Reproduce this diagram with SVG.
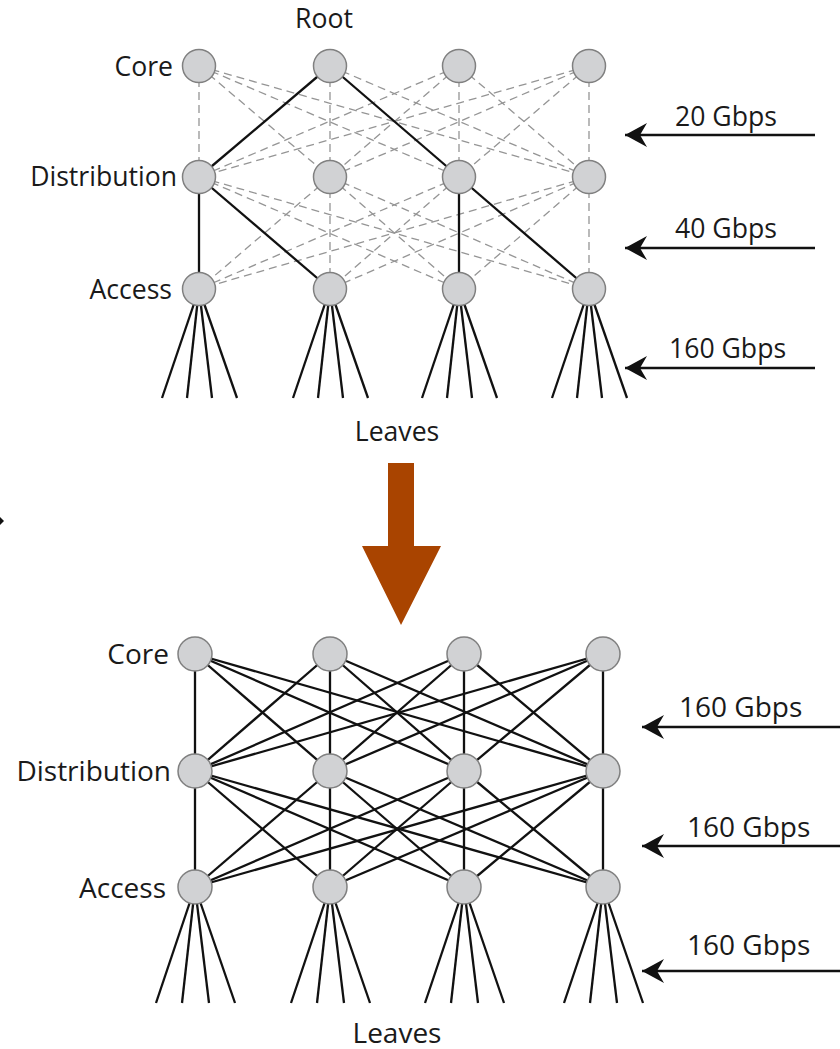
<svg xmlns="http://www.w3.org/2000/svg" width="840" height="1049" viewBox="0 0 840 1049">
  <style>
    .lbl { font-family: "Open Sans", "Liberation Sans", sans-serif; font-size: 26.6px; fill: #1a1a1a; }
    .lbl2 { font-family: "Open Sans", "Liberation Sans", sans-serif; font-size: 28px; fill: #1a1a1a; }
    .node { fill: #d1d2d4; stroke: #808080; stroke-width: 1.5; }
    .dash { stroke: #959595; stroke-width: 1.3; stroke-dasharray: 8 5; fill: none; }
    .link { stroke: #111; stroke-width: 2.3; fill: none; }
    .leaf { stroke: #111; stroke-width: 2.3; fill: none; }
    .rate { stroke: #111; stroke-width: 2.5; fill: none; marker-start: url(#head); }
  </style>
  <defs>
    <marker id="head" viewBox="-1 -13 25 26" refX="0" refY="0" markerWidth="25" markerHeight="26" markerUnits="userSpaceOnUse" orient="auto">
      <path d="M0,0 L22,-12 L15,0 L22,12 Z" fill="#111"/>
    </marker>
  </defs>
  <rect width="840" height="1049" fill="#ffffff"/>

  <g id="connectors">
    <!-- upper tree: inactive redundant links (dashed) core -> distribution -->
    <g class="dash">
      <line x1="199" y1="66" x2="199" y2="177"/>
      <line x1="199" y1="66" x2="330" y2="177"/>
      <line x1="199" y1="66" x2="459" y2="177"/>
      <line x1="199" y1="66" x2="589" y2="177"/>
      <line x1="330" y1="66" x2="330" y2="177"/>
      <line x1="330" y1="66" x2="589" y2="177"/>
      <line x1="459" y1="66" x2="199" y2="177"/>
      <line x1="459" y1="66" x2="330" y2="177"/>
      <line x1="459" y1="66" x2="459" y2="177"/>
      <line x1="459" y1="66" x2="589" y2="177"/>
      <line x1="589" y1="66" x2="199" y2="177"/>
      <line x1="589" y1="66" x2="330" y2="177"/>
      <line x1="589" y1="66" x2="459" y2="177"/>
      <line x1="589" y1="66" x2="589" y2="177"/>
      <!-- distribution -> access -->
      <line x1="199" y1="177" x2="459" y2="289"/>
      <line x1="199" y1="177" x2="589" y2="289"/>
      <line x1="330" y1="177" x2="199" y2="289"/>
      <line x1="330" y1="177" x2="330" y2="289"/>
      <line x1="330" y1="177" x2="459" y2="289"/>
      <line x1="330" y1="177" x2="589" y2="289"/>
      <line x1="459" y1="177" x2="199" y2="289"/>
      <line x1="459" y1="177" x2="330" y2="289"/>
      <line x1="589" y1="177" x2="199" y2="289"/>
      <line x1="589" y1="177" x2="330" y2="289"/>
      <line x1="589" y1="177" x2="459" y2="289"/>
      <line x1="589" y1="177" x2="589" y2="289"/>
    </g>
    <!-- upper tree: active spanning-tree links -->
    <g class="link">
      <line x1="330" y1="66" x2="199" y2="177"/>
      <line x1="330" y1="66" x2="459" y2="177"/>
      <line x1="199" y1="177" x2="199" y2="289"/>
      <line x1="199" y1="177" x2="330" y2="289"/>
      <line x1="459" y1="177" x2="459" y2="289"/>
      <line x1="459" y1="177" x2="589" y2="289"/>
    </g>
    <!-- upper tree: leaves -->
    <g class="leaf">
      <line x1="199" y1="289" x2="162" y2="398"/>
      <line x1="199" y1="289" x2="187" y2="398"/>
      <line x1="199" y1="289" x2="212" y2="398"/>
      <line x1="199" y1="289" x2="237" y2="398"/>
      <line x1="330" y1="289" x2="293" y2="398"/>
      <line x1="330" y1="289" x2="318" y2="398"/>
      <line x1="330" y1="289" x2="343" y2="398"/>
      <line x1="330" y1="289" x2="368" y2="398"/>
      <line x1="459" y1="289" x2="422" y2="398"/>
      <line x1="459" y1="289" x2="447" y2="398"/>
      <line x1="459" y1="289" x2="472" y2="398"/>
      <line x1="459" y1="289" x2="497" y2="398"/>
      <line x1="589" y1="289" x2="552" y2="398"/>
      <line x1="589" y1="289" x2="577" y2="398"/>
      <line x1="589" y1="289" x2="602" y2="398"/>
      <line x1="589" y1="289" x2="627" y2="398"/>
    </g>
    <!-- upper tree: bandwidth arrows -->
    <line class="rate" x1="625" y1="135" x2="815" y2="135"/>
    <line class="rate" x1="625" y1="248" x2="815" y2="248"/>
    <line class="rate" x1="625" y1="368" x2="815" y2="368"/>

    <!-- lower fabric: full mesh core -> distribution -->
    <g class="link">
      <line x1="195" y1="654" x2="195" y2="771"/>
      <line x1="195" y1="654" x2="330" y2="771"/>
      <line x1="195" y1="654" x2="464" y2="771"/>
      <line x1="195" y1="654" x2="603" y2="771"/>
      <line x1="330" y1="654" x2="195" y2="771"/>
      <line x1="330" y1="654" x2="330" y2="771"/>
      <line x1="330" y1="654" x2="464" y2="771"/>
      <line x1="330" y1="654" x2="603" y2="771"/>
      <line x1="464" y1="654" x2="195" y2="771"/>
      <line x1="464" y1="654" x2="330" y2="771"/>
      <line x1="464" y1="654" x2="464" y2="771"/>
      <line x1="464" y1="654" x2="603" y2="771"/>
      <line x1="603" y1="654" x2="195" y2="771"/>
      <line x1="603" y1="654" x2="330" y2="771"/>
      <line x1="603" y1="654" x2="464" y2="771"/>
      <line x1="603" y1="654" x2="603" y2="771"/>
      <!-- distribution -> access -->
      <line x1="195" y1="771" x2="195" y2="887"/>
      <line x1="195" y1="771" x2="330" y2="887"/>
      <line x1="195" y1="771" x2="464" y2="887"/>
      <line x1="195" y1="771" x2="603" y2="887"/>
      <line x1="330" y1="771" x2="195" y2="887"/>
      <line x1="330" y1="771" x2="330" y2="887"/>
      <line x1="330" y1="771" x2="464" y2="887"/>
      <line x1="330" y1="771" x2="603" y2="887"/>
      <line x1="464" y1="771" x2="195" y2="887"/>
      <line x1="464" y1="771" x2="330" y2="887"/>
      <line x1="464" y1="771" x2="464" y2="887"/>
      <line x1="464" y1="771" x2="603" y2="887"/>
      <line x1="603" y1="771" x2="195" y2="887"/>
      <line x1="603" y1="771" x2="330" y2="887"/>
      <line x1="603" y1="771" x2="464" y2="887"/>
      <line x1="603" y1="771" x2="603" y2="887"/>
    </g>
    <!-- lower fabric: leaves -->
    <g class="leaf">
      <line x1="195" y1="887" x2="156" y2="1003"/>
      <line x1="195" y1="887" x2="182" y2="1003"/>
      <line x1="195" y1="887" x2="209" y2="1003"/>
      <line x1="195" y1="887" x2="235" y2="1003"/>
      <line x1="330" y1="887" x2="291" y2="1003"/>
      <line x1="330" y1="887" x2="317" y2="1003"/>
      <line x1="330" y1="887" x2="344" y2="1003"/>
      <line x1="330" y1="887" x2="370" y2="1003"/>
      <line x1="464" y1="887" x2="425" y2="1003"/>
      <line x1="464" y1="887" x2="451" y2="1003"/>
      <line x1="464" y1="887" x2="478" y2="1003"/>
      <line x1="464" y1="887" x2="504" y2="1003"/>
      <line x1="603" y1="887" x2="564" y2="1003"/>
      <line x1="603" y1="887" x2="590" y2="1003"/>
      <line x1="603" y1="887" x2="617" y2="1003"/>
      <line x1="603" y1="887" x2="643" y2="1003"/>
    </g>
    <!-- lower fabric: bandwidth arrows -->
    <line class="rate" x1="642" y1="727" x2="840" y2="727"/>
    <line class="rate" x1="642" y1="846" x2="840" y2="846"/>
    <line class="rate" x1="642" y1="971" x2="840" y2="971"/>
  </g>

  <!-- transition arrow between the two topologies -->
  <g id="transition">
    <polygon points="388,463 414,463 414,546 441,546 401,625 362,546 388,546" fill="#a94400"/>
    <polygon points="0,517 4,521 0,525" fill="#111"/>
  </g>

  <!-- upper tree nodes -->
  <g id="tree-core">
    <circle class="node" cx="199" cy="66" r="16.5"/>
    <circle class="node" cx="330" cy="66" r="16.5"/>
    <circle class="node" cx="459" cy="66" r="16.5"/>
    <circle class="node" cx="589" cy="66" r="16.5"/>
  </g>
  <g id="tree-distribution">
    <circle class="node" cx="199" cy="177" r="16.5"/>
    <circle class="node" cx="330" cy="177" r="16.5"/>
    <circle class="node" cx="459" cy="177" r="16.5"/>
    <circle class="node" cx="589" cy="177" r="16.5"/>
  </g>
  <g id="tree-access">
    <circle class="node" cx="199" cy="289" r="16.5"/>
    <circle class="node" cx="330" cy="289" r="16.5"/>
    <circle class="node" cx="459" cy="289" r="16.5"/>
    <circle class="node" cx="589" cy="289" r="16.5"/>
  </g>

  <!-- lower fabric nodes -->
  <g id="fabric-core">
    <circle class="node" cx="195" cy="654" r="17"/>
    <circle class="node" cx="330" cy="654" r="17"/>
    <circle class="node" cx="464" cy="654" r="17"/>
    <circle class="node" cx="603" cy="654" r="17"/>
  </g>
  <g id="fabric-distribution">
    <circle class="node" cx="195" cy="771" r="17"/>
    <circle class="node" cx="330" cy="771" r="17"/>
    <circle class="node" cx="464" cy="771" r="17"/>
    <circle class="node" cx="603" cy="771" r="17"/>
  </g>
  <g id="fabric-access">
    <circle class="node" cx="195" cy="887" r="17"/>
    <circle class="node" cx="330" cy="887" r="17"/>
    <circle class="node" cx="464" cy="887" r="17"/>
    <circle class="node" cx="603" cy="887" r="17"/>
  </g>

  <!-- labels: upper tree -->
  <g id="tree-labels">
    <text class="lbl" x="324" y="28" text-anchor="middle">Root</text>
    <text class="lbl" x="173" y="76" text-anchor="end">Core</text>
    <text class="lbl" x="177" y="186" text-anchor="end">Distribution</text>
    <text class="lbl" x="172" y="299" text-anchor="end">Access</text>
    <text class="lbl" x="397" y="441" text-anchor="middle">Leaves</text>
    <text class="lbl" x="675" y="126">20 Gbps</text>
    <text class="lbl" x="675" y="238">40 Gbps</text>
    <text class="lbl" x="669" y="358">160 Gbps</text>
  </g>

  <!-- labels: lower fabric -->
  <g id="fabric-labels">
    <text class="lbl2" x="169" y="664" text-anchor="end">Core</text>
    <text class="lbl2" x="171" y="781" text-anchor="end">Distribution</text>
    <text class="lbl2" x="166" y="898" text-anchor="end">Access</text>
    <text class="lbl2" x="397" y="1043" text-anchor="middle">Leaves</text>
    <text class="lbl2" x="679" y="717">160 Gbps</text>
    <text class="lbl2" x="687" y="837">160 Gbps</text>
    <text class="lbl2" x="687" y="955">160 Gbps</text>
  </g>
</svg>
